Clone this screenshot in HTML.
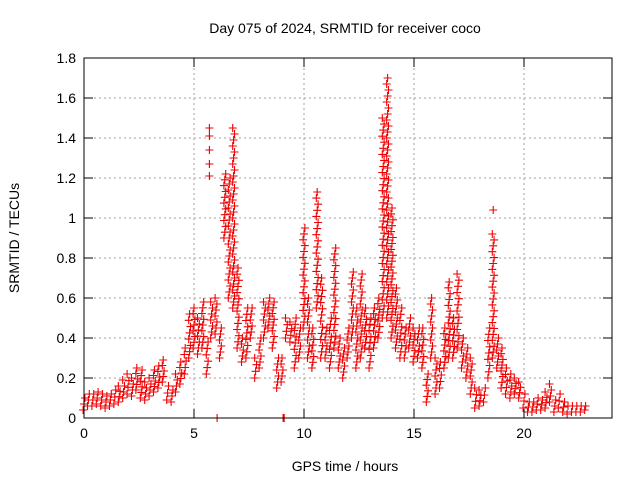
<!DOCTYPE html>
<html><head><meta charset="utf-8"><style>
body{margin:0;background:#fff}
svg{display:block;font-family:"Liberation Sans",sans-serif}
</style></head><body>
<svg id="chart" width="640" height="480" xmlns="http://www.w3.org/2000/svg">
<text x="345" y="33" font-size="14" text-anchor="middle">Day 075 of 2024, SRMTID for receiver coco</text>
<text x="345" y="471" font-size="14" text-anchor="middle">GPS time / hours</text>
<text transform="translate(19,238) rotate(-90)" font-size="14" text-anchor="middle">SRMTID / TECUs</text>
<g id="grid"></g>
<g id="marks"></g>
<rect x="84" y="58" width="528" height="360" fill="none" stroke="#000" stroke-width="1"/>
<g id="ticks"></g>
</svg>
<script>
const xTicks=[0,5,10,15,20];
const yTicks=[0,0.2,0.4,0.6,0.8,1,1.2,1.4,1.6,1.8];
const yTickLabels=["0","0.2","0.4","0.6","0.8","1","1.2","1.4","1.6","1.8"];
const tStep=0.2;
const lo=[.04,.06,.06,.07,.06,.05,.06,.07,.08,.10,.12,.11,.14,.10,.09,.11,.13,.15,.18,.09,.08,.13,.17,.22,.30,.35,.32,.35,.22,.40,.42,.30,.90,.60,.55,.35,.28,.30,.40,.20,.25,.40,.45,.35,.15,.18,.40,.38,.25,.30,.45,.30,.25,.55,.30,.30,.25,.35,.25,.20,.30,.40,.25,.30,.35,.25,.35,.40,.50,.50,.40,.35,.30,.30,.35,.28,.30,.25,.08,.30,.12,.15,.25,.30,.30,.35,.25,.20,.12,.05,.06,.08,.20,.30,.25,.15,.12,.10,.12,.10,.05,.03,.03,.04,.04,.05,.08,.03,.05,.03,.02,.03,.03,.03,.04];
const hi=[.10,.12,.12,.13,.12,.11,.12,.14,.16,.19,.22,.20,.25,.24,.18,.20,.24,.26,.29,.16,.14,.22,.28,.35,.52,.55,.50,.58,.38,.58,.60,.45,1.22,1.20,1.45,.75,.40,.55,.55,.30,.40,.58,.60,.58,.30,.30,.50,.48,.50,.45,.95,.60,.45,1.13,.70,.45,.50,.85,.40,.35,.45,.73,.55,.72,.55,.50,.55,.60,1.50,1.70,1.05,.65,.55,.45,.50,.45,.45,.45,.22,.60,.30,.28,.45,.68,.50,.72,.40,.35,.30,.15,.14,.15,.45,.92,.40,.35,.25,.22,.20,.18,.12,.08,.08,.10,.09,.13,.17,.09,.12,.08,.06,.06,.06,.06,.06];
const spikeT=[5.7,5.7,5.7,5.7,5.7,18.6,6.05,9.05,9.1];
const spikeV=[1.45,1.41,1.34,1.27,1.21,1.04,0,0,0];
const X=t=>84+t*22, Y=v=>418-v*200;
const NS="http://www.w3.org/2000/svg";
const grid=document.getElementById('grid'),ticks=document.getElementById('ticks'),marks=document.getElementById('marks');
function ln(p,x1,y1,x2,y2,st,dash){const l=document.createElementNS(NS,'line');l.setAttribute('x1',x1);l.setAttribute('y1',y1);l.setAttribute('x2',x2);l.setAttribute('y2',y2);l.setAttribute('stroke',st);if(dash)l.setAttribute('stroke-dasharray',dash);p.appendChild(l);return l;}
function tx(p,x,y,s,a){const e=document.createElementNS(NS,'text');e.setAttribute('x',x);e.setAttribute('y',y);e.setAttribute('font-size','14');e.setAttribute('text-anchor',a);e.textContent=s;p.appendChild(e);return e;}
yTicks.forEach((v,i)=>{const y=Y(v);
 if(i>0&&i<yTicks.length-1){const g=ln(grid,84,y,612,y,'#a0a0a0','2,3');}
 ln(ticks,84,y,93,y,'#000');ln(ticks,603,y,612,y,'#000');
 const t=tx(ticks,76,y+5,yTickLabels[i],'end');
 
 });
xTicks.forEach(v=>{const x=X(v);
 if(v>0){const g=ln(grid,x,58,x,418,'#a0a0a0','2,3');}
 ln(ticks,x,418,x,409,'#000');ln(ticks,x,58,x,67,'#000');
 const t=tx(ticks,x,438,String(v),'middle');
 
 });
let d='';
function plus(x,y){d+=`M${(x-4).toFixed(1)} ${y.toFixed(1)}h8M${x.toFixed(1)} ${(y-4).toFixed(1)}v8`;}
lo.forEach((l,i)=>{const h=hi[i];const x=X(i*tStep);
 const n=Math.max(1,Math.round((h-l)/0.03));
 for(let k=0;k<=n;k++){const v=l+(h-l)*k/n;plus(x+((k%3)-1)*0.9,Y(v));}});
spikeT.forEach((t,i)=>plus(X(t),Y(spikeV[i])));
const p=document.createElementNS(NS,'path');
p.setAttribute('d',d);p.setAttribute('stroke','#f00000');p.setAttribute('stroke-width','1.1');p.setAttribute('fill','none');


marks.appendChild(p);
</script>
</body></html>
